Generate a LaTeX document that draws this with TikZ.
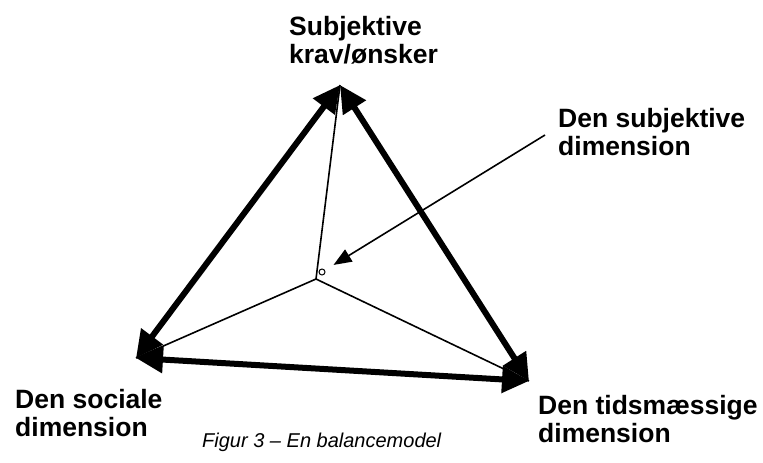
\documentclass[tikz,border=0pt]{standalone}
\usepackage{fontspec}
\setmainfont{Liberation Sans}
\usetikzlibrary{arrows.meta}

\begin{document}
\begin{tikzpicture}[
  x=1pt,y=-1pt,
  lbl/.style={align=left,inner sep=0pt,anchor=base west,font=\fontsize{26.5}{28}\selectfont\bfseries},
  side/.style={{Triangle[length=27pt,width=26pt]}-{Triangle[length=27pt,width=26pt]},line width=6pt},
  spoke/.style={line width=1.6pt},
  pointer/.style={-{Triangle[length=18pt,width=14pt]},line width=1.6pt}
]
\useasboundingbox (0,0) rectangle (763,463);
% corners of the balance triangle
\coordinate (top) at (340,85);
\coordinate (soc) at (136,358);
\coordinate (tid) at (529,381);
\coordinate (mid) at (316,279);
\node[draw,circle,inner sep=0pt,minimum size=6pt,line width=1pt] (dot) at (322,272) {};

\draw[spoke] (mid)--(top);
\draw[spoke] (mid)--(soc);
\draw[spoke] (mid)--(tid);

\draw[side] (top)--(soc);
\draw[side] (soc)--(tid);
\draw[side] (tid)--(top);

% texts (base = last line)
\node[lbl] (krav) at (289,63) {Subjektive\\krav/ønsker};
\node[lbl] (subj) at (558,155) {Den subjektive\\dimension};
\node[lbl] (sociale) at (15,436) {Den sociale\\dimension};
\node[lbl] (tids) at (538,442) {Den tidsmæssige\\dimension};
\node[inner sep=0pt,anchor=base west,font=\fontsize{20}{22}\selectfont\itshape] (caption) at (202,447) {Figur 3 – En balancemodel};

\coordinate (from) at (545,135);
\draw[pointer,shorten >=10pt] (from)--(dot);
\end{tikzpicture}
\end{document}
